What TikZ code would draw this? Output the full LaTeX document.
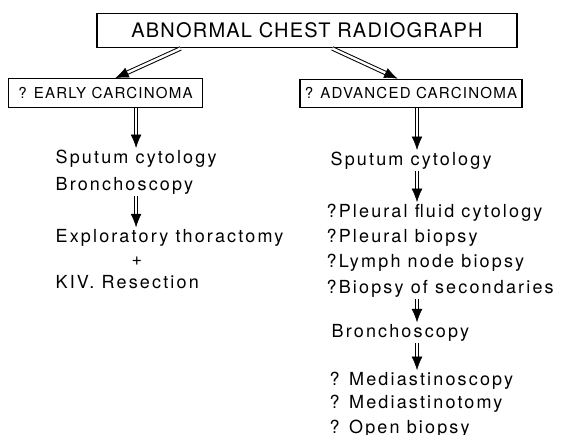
\documentclass[tikz,border=0pt]{standalone}
\usepackage{fontspec}
\setmainfont{TeX Gyre Heros}
\usetikzlibrary{arrows.meta,positioning,calc}

\begin{document}
\begin{tikzpicture}[x=0.75pt, y=-0.75pt,
    headbox/.style={rectangle, draw, line width=0.9pt, inner sep=0pt,
      minimum width=315pt, minimum height=26pt,
      font=\fontsize{15}{18}\selectfont\addfontfeatures{LetterSpace=6}},
    askbox/.style={rectangle, draw, line width=0.8pt, inner sep=0pt,
      minimum height=21.5pt, font=\fontsize{11.3}{15}\selectfont\addfontfeatures{LetterSpace=8}},
    testline/.style={anchor=base west, inner sep=1pt,
      font=\fontsize{13.5}{16}\selectfont\addfontfeatures{LetterSpace=12}},
    arr/.style={double, double distance=1.8pt, line width=0.75pt,
      -{Latex[length=10pt, width=8pt, line width=0.4pt]}}
  ]
    \useasboundingbox (0,0) rectangle (575,435);

    % Boxes
    \node[headbox] (title) at (307,30.5) {ABNORMAL CHEST RADIOGRAPH};
    \node[askbox, minimum width=146pt] (early) at (105.5,93) {? EARLY CARCINOMA};
    \node[askbox, minimum width=166.5pt] (adv) at (411,93.5) {? ADVANCED CARCINOMA};

    % Left path: early carcinoma
    \node[testline] (lsput) at (54,163) {Sputum cytology};
    \node[testline] (lbron) at (54,190) {Bronchoscopy};
    \node[testline] (lexpl) at (54,242) {Exploratory thoractomy};
    \node[testline, anchor=center] (plus) at (137,261) {+};
    \node[testline] (lres) at (54,288) {KIV. Resection};

    % Right path: advanced carcinoma
    \node[testline] (rsput) at (329,165) {Sputum cytology};
    \node[testline] (rpl) at (325,217) {?Pleural fluid cytology};
    \node[testline] (rplb) at (325,242) {?Pleural biopsy};
    \node[testline] (rlym) at (325,267) {?Lymph node biopsy};
    \node[testline] (rsec) at (325,293) {?Biopsy of secondaries};
    \node[testline] (rbron) at (330,337) {Bronchoscopy};
    \node[testline] (rmsc) at (328,385) {? Mediastinoscopy};
    \node[testline] (rmst) at (328,408) {? Mediastinotomy};
    \node[testline] (ropen) at (328,433) {? Open biopsy};

    % Arrows from title
    \draw[arr] ($(title.south west)!0.2!(title.south east)$) -- ($(early.north west)!0.55!(early.north east)$);
    \draw[arr] ($(title.south west)!0.56!(title.south east)$) -- ($(adv.north west)!0.44!(adv.north east)$);

    % Arrows left
    \draw[arr] (early.south -| lsput.north) -- (lsput.north);
    \draw[arr] (lbron.south -| lsput.north) -- (lexpl.north -| lsput.north);

    % Arrows right
    \coordinate (rx) at ([xshift=4.5pt]adv.south);
    \draw[arr] (rx) -- (rx |- rsput.north);
    \draw[arr] (rx |- rsput.south) -- (rx |- rpl.north);
    \draw[arr] (rx |- rsec.south) -- (rx |- rbron.north);
    \draw[arr] (rx |- rbron.south) -- (rx |- rmsc.north);
  \end{tikzpicture}
\end{document}
